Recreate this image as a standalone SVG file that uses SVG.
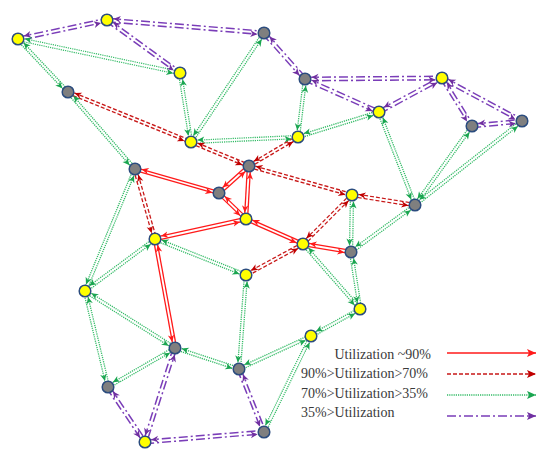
<svg xmlns="http://www.w3.org/2000/svg" width="545" height="449" viewBox="0 0 545 449">
<style>
.rs{fill:none;stroke:#ff1a1a;stroke-width:4.4}
.rd{fill:none;stroke:#c81818;stroke-width:4.4;stroke-dasharray:4 2}
.g{fill:none;stroke:#33bb66;stroke-width:4.4;stroke-dasharray:1.2 1}
.p{fill:none;stroke:#7a3db8;stroke-width:5;stroke-dasharray:9 3 2 3}
.w{fill:none;stroke:#fff;stroke-width:1.8}
.wp{stroke-width:2}
.mrs{marker-start:url(#rsS);marker-end:url(#rsE)}
.mrd{marker-start:url(#rdS);marker-end:url(#rdE)}
.mg{marker-start:url(#gS);marker-end:url(#gE)}
.mp{marker-start:url(#pS);marker-end:url(#pE)}
.n circle{stroke:#2b4c7e;stroke-width:1.5}
.y{fill:#ffff00}
.k{fill:#7f7f7f}
.leg line{stroke-width:1.5;fill:none}
text{font-family:"Liberation Serif","Times New Roman",serif;font-size:14px;fill:#3a3a3a}
</style>
<defs>
<marker id="rsE" markerUnits="userSpaceOnUse" orient="auto" overflow="visible" markerWidth="1" markerHeight="1"><path d="M-6.5 1.6L-13.5-1.6L-11.5 1.6L-13.5 4.8Z" fill="#ff1a1a"/></marker>
<marker id="rsS" markerUnits="userSpaceOnUse" orient="auto" overflow="visible" markerWidth="1" markerHeight="1"><path d="M6.5-1.6L13.5 1.6L11.5-1.6L13.5-4.8Z" fill="#ff1a1a"/></marker>
<marker id="rdE" markerUnits="userSpaceOnUse" orient="auto" overflow="visible" markerWidth="1" markerHeight="1"><path d="M-6.5 1.6L-13.5-1.6L-11.5 1.6L-13.5 4.8Z" fill="#c00000"/></marker>
<marker id="rdS" markerUnits="userSpaceOnUse" orient="auto" overflow="visible" markerWidth="1" markerHeight="1"><path d="M6.5-1.6L13.5 1.6L11.5-1.6L13.5-4.8Z" fill="#c00000"/></marker>
<marker id="gE" markerUnits="userSpaceOnUse" orient="auto" overflow="visible" markerWidth="1" markerHeight="1"><path d="M-6.5 1.6L-13.5-1.6L-11.5 1.6L-13.5 4.8Z" fill="#1aa550"/></marker>
<marker id="gS" markerUnits="userSpaceOnUse" orient="auto" overflow="visible" markerWidth="1" markerHeight="1"><path d="M6.5-1.6L13.5 1.6L11.5-1.6L13.5-4.8Z" fill="#1aa550"/></marker>
<marker id="pE" markerUnits="userSpaceOnUse" orient="auto" overflow="visible" markerWidth="1" markerHeight="1"><path d="M-6.5 1.8L-13.5-1.6L-11.5 1.8L-13.5 5.2Z" fill="#7030a0"/></marker>
<marker id="pS" markerUnits="userSpaceOnUse" orient="auto" overflow="visible" markerWidth="1" markerHeight="1"><path d="M6.5-1.8L13.5 1.6L11.5-1.8L13.5-5.2Z" fill="#7030a0"/></marker>
<marker id="lrs" markerUnits="userSpaceOnUse" orient="auto" overflow="visible" markerWidth="1" markerHeight="1"><path d="M0 0L-9-4L-7 0L-9 4Z" fill="#ff1a1a"/></marker>
<marker id="lrd" markerUnits="userSpaceOnUse" orient="auto" overflow="visible" markerWidth="1" markerHeight="1"><path d="M0 0L-9-4L-7 0L-9 4Z" fill="#c00000"/></marker>
<marker id="lg" markerUnits="userSpaceOnUse" orient="auto" overflow="visible" markerWidth="1" markerHeight="1"><path d="M0 0L-9-4L-7 0L-9 4Z" fill="#1aa550"/></marker>
<marker id="lp" markerUnits="userSpaceOnUse" orient="auto" overflow="visible" markerWidth="1" markerHeight="1"><path d="M0 0L-9-4L-7 0L-9 4Z" fill="#7030a0"/></marker>
<path id="p1" d="M18 39L107 20"/>
<path id="p2" d="M107 20L264 33"/>
<path id="p3" d="M107 20L180 73"/>
<path id="p4" d="M264 33L305 79"/>
<path id="p5" d="M305 79L442 78"/>
<path id="p6" d="M305 79L379 112"/>
<path id="p7" d="M379 112L442 78"/>
<path id="p8" d="M442 78L472 126"/>
<path id="p9" d="M442 78L522 121"/>
<path id="p10" d="M472 126L522 121"/>
<path id="p11" d="M108 387L145 442"/>
<path id="p12" d="M175 348L145 442"/>
<path id="p13" d="M145 442L264 432"/>
<path id="p14" d="M239 369L264 432"/>
<path id="g1" d="M18 39L180 73"/>
<path id="g2" d="M18 39L68 92"/>
<path id="g3" d="M264 33L191 142"/>
<path id="g4" d="M180 73L191 142"/>
<path id="g5" d="M68 92L135 169"/>
<path id="g6" d="M305 79L298 137"/>
<path id="g7" d="M191 142L298 137"/>
<path id="g8" d="M298 137L379 112"/>
<path id="g9" d="M379 112L415 205"/>
<path id="g10" d="M472 126L415 205"/>
<path id="g11" d="M522 121L415 205"/>
<path id="g12" d="M415 205L351 252"/>
<path id="g13" d="M352 195L351 252"/>
<path id="g14" d="M351 252L360 309"/>
<path id="g15" d="M303 244L360 309"/>
<path id="g16" d="M135 169L85 291"/>
<path id="g17" d="M155 239L85 291"/>
<path id="g18" d="M155 239L246 275"/>
<path id="g19" d="M246 275L239 369"/>
<path id="g20" d="M85 291L108 387"/>
<path id="g21" d="M85 291L175 348"/>
<path id="g22" d="M108 387L175 348"/>
<path id="g23" d="M175 348L239 369"/>
<path id="g24" d="M239 369L311 336"/>
<path id="g25" d="M311 336L360 309"/>
<path id="g26" d="M311 336L264 432"/>
<path id="d1" d="M68 92L191 142"/>
<path id="d2" d="M191 142L249 166"/>
<path id="d3" d="M249 166L298 137"/>
<path id="d4" d="M249 166L352 195"/>
<path id="d5" d="M352 195L415 205"/>
<path id="d6" d="M352 195L303 244"/>
<path id="d7" d="M135 169L155 239"/>
<path id="d8" d="M303 244L246 275"/>
<path id="s1" d="M135 169L219 193"/>
<path id="s2" d="M219 193L249 166"/>
<path id="s3" d="M249 166L246 219"/>
<path id="s4" d="M219 193L246 219"/>
<path id="s5" d="M246 219L155 239"/>
<path id="s6" d="M246 219L303 244"/>
<path id="s7" d="M303 244L351 252"/>
<path id="s8" d="M155 239L175 348"/>
</defs>
<g id="connectors">
<g id="bands">
<use href="#p1" class="p"/><use href="#p2" class="p"/><use href="#p3" class="p"/><use href="#p4" class="p"/><use href="#p5" class="p"/><use href="#p6" class="p"/><use href="#p7" class="p"/><use href="#p8" class="p"/><use href="#p9" class="p"/><use href="#p10" class="p"/><use href="#p11" class="p"/><use href="#p12" class="p"/><use href="#p13" class="p"/><use href="#p14" class="p"/>
<use href="#g1" class="g"/><use href="#g2" class="g"/><use href="#g3" class="g"/><use href="#g4" class="g"/><use href="#g5" class="g"/><use href="#g6" class="g"/><use href="#g7" class="g"/><use href="#g8" class="g"/><use href="#g9" class="g"/><use href="#g10" class="g"/><use href="#g11" class="g"/><use href="#g12" class="g"/><use href="#g13" class="g"/><use href="#g14" class="g"/><use href="#g15" class="g"/><use href="#g16" class="g"/><use href="#g17" class="g"/><use href="#g18" class="g"/><use href="#g19" class="g"/><use href="#g20" class="g"/><use href="#g21" class="g"/><use href="#g22" class="g"/><use href="#g23" class="g"/><use href="#g24" class="g"/><use href="#g25" class="g"/><use href="#g26" class="g"/>
<use href="#d1" class="rd"/><use href="#d2" class="rd"/><use href="#d3" class="rd"/><use href="#d4" class="rd"/><use href="#d5" class="rd"/><use href="#d6" class="rd"/><use href="#d7" class="rd"/><use href="#d8" class="rd"/>
<use href="#s1" class="rs"/><use href="#s2" class="rs"/><use href="#s3" class="rs"/><use href="#s4" class="rs"/><use href="#s5" class="rs"/><use href="#s6" class="rs"/><use href="#s7" class="rs"/><use href="#s8" class="rs"/>
</g>
<g id="splits">
<use href="#p1" class="w wp mp"/><use href="#p2" class="w wp mp"/><use href="#p3" class="w wp mp"/><use href="#p4" class="w wp mp"/><use href="#p5" class="w wp mp"/><use href="#p6" class="w wp mp"/><use href="#p7" class="w wp mp"/><use href="#p8" class="w wp mp"/><use href="#p9" class="w wp mp"/><use href="#p10" class="w wp mp"/><use href="#p11" class="w wp mp"/><use href="#p12" class="w wp mp"/><use href="#p13" class="w wp mp"/><use href="#p14" class="w wp mp"/>
<use href="#g1" class="w mg"/><use href="#g2" class="w mg"/><use href="#g3" class="w mg"/><use href="#g4" class="w mg"/><use href="#g5" class="w mg"/><use href="#g6" class="w mg"/><use href="#g7" class="w mg"/><use href="#g8" class="w mg"/><use href="#g9" class="w mg"/><use href="#g10" class="w mg"/><use href="#g11" class="w mg"/><use href="#g12" class="w mg"/><use href="#g13" class="w mg"/><use href="#g14" class="w mg"/><use href="#g15" class="w mg"/><use href="#g16" class="w mg"/><use href="#g17" class="w mg"/><use href="#g18" class="w mg"/><use href="#g19" class="w mg"/><use href="#g20" class="w mg"/><use href="#g21" class="w mg"/><use href="#g22" class="w mg"/><use href="#g23" class="w mg"/><use href="#g24" class="w mg"/><use href="#g25" class="w mg"/><use href="#g26" class="w mg"/>
<use href="#d1" class="w mrd"/><use href="#d2" class="w mrd"/><use href="#d3" class="w mrd"/><use href="#d4" class="w mrd"/><use href="#d5" class="w mrd"/><use href="#d6" class="w mrd"/><use href="#d7" class="w mrd"/><use href="#d8" class="w mrd"/>
<use href="#s1" class="w mrs"/><use href="#s2" class="w mrs"/><use href="#s3" class="w mrs"/><use href="#s4" class="w mrs"/><use href="#s5" class="w mrs"/><use href="#s6" class="w mrs"/><use href="#s7" class="w mrs"/><use href="#s8" class="w mrs"/>
</g>
</g>
<g id="nodes">
<g id="n1" class="n"><circle cx="18" cy="39" r="5.8" class="y"/></g>
<g id="n2" class="n"><circle cx="107" cy="20" r="5.8" class="y"/></g>
<g id="n3" class="n"><circle cx="264" cy="33" r="5.8" class="k"/></g>
<g id="n4" class="n"><circle cx="180" cy="73" r="5.8" class="y"/></g>
<g id="n5" class="n"><circle cx="68" cy="92" r="5.8" class="k"/></g>
<g id="n6" class="n"><circle cx="305" cy="79" r="5.8" class="k"/></g>
<g id="n7" class="n"><circle cx="442" cy="78" r="5.8" class="y"/></g>
<g id="n8" class="n"><circle cx="379" cy="112" r="5.8" class="y"/></g>
<g id="n9" class="n"><circle cx="472" cy="126" r="5.8" class="k"/></g>
<g id="n10" class="n"><circle cx="522" cy="121" r="5.8" class="k"/></g>
<g id="n11" class="n"><circle cx="298" cy="137" r="5.8" class="y"/></g>
<g id="n12" class="n"><circle cx="191" cy="142" r="5.8" class="y"/></g>
<g id="n13" class="n"><circle cx="249" cy="166" r="5.8" class="k"/></g>
<g id="n14" class="n"><circle cx="135" cy="169" r="5.8" class="k"/></g>
<g id="n15" class="n"><circle cx="219" cy="193" r="5.8" class="k"/></g>
<g id="n16" class="n"><circle cx="352" cy="195" r="5.8" class="y"/></g>
<g id="n17" class="n"><circle cx="415" cy="205" r="5.8" class="k"/></g>
<g id="n18" class="n"><circle cx="246" cy="219" r="5.8" class="y"/></g>
<g id="n19" class="n"><circle cx="155" cy="239" r="5.8" class="y"/></g>
<g id="n20" class="n"><circle cx="303" cy="244" r="5.8" class="y"/></g>
<g id="n21" class="n"><circle cx="351" cy="252" r="5.8" class="k"/></g>
<g id="n22" class="n"><circle cx="246" cy="275" r="5.8" class="y"/></g>
<g id="n23" class="n"><circle cx="85" cy="291" r="5.8" class="y"/></g>
<g id="n24" class="n"><circle cx="360" cy="309" r="5.8" class="y"/></g>
<g id="n25" class="n"><circle cx="311" cy="336" r="5.8" class="y"/></g>
<g id="n26" class="n"><circle cx="175" cy="348" r="5.8" class="k"/></g>
<g id="n27" class="n"><circle cx="239" cy="369" r="5.8" class="k"/></g>
<g id="n28" class="n"><circle cx="108" cy="387" r="5.8" class="k"/></g>
<g id="n29" class="n"><circle cx="145" cy="442" r="5.8" class="y"/></g>
<g id="n30" class="n"><circle cx="264" cy="432" r="5.8" class="k"/></g>
</g>
<g id="legend" class="leg">
<text x="431" y="359" text-anchor="end">Utilization ~90%</text>
<text x="301" y="378">90%&gt;Utilization&gt;70%</text>
<text x="301" y="397.5">70%&gt;Utilization&gt;35%</text>
<text x="301" y="417">35%&gt;Utilization</text>
<line x1="447" y1="353" x2="536" y2="353" stroke="#ff1a1a" marker-end="url(#lrs)"/>
<line x1="447" y1="374" x2="536" y2="374" stroke="#c81818" stroke-dasharray="4 2" marker-end="url(#lrd)"/>
<line x1="447" y1="395" x2="536" y2="395" stroke="#33bb66" stroke-dasharray="1.2 1" marker-end="url(#lg)"/>
<line x1="447" y1="416" x2="536" y2="416" stroke="#7a3db8" stroke-dasharray="9 3 2 3" marker-end="url(#lp)"/>
</g>
</svg>
